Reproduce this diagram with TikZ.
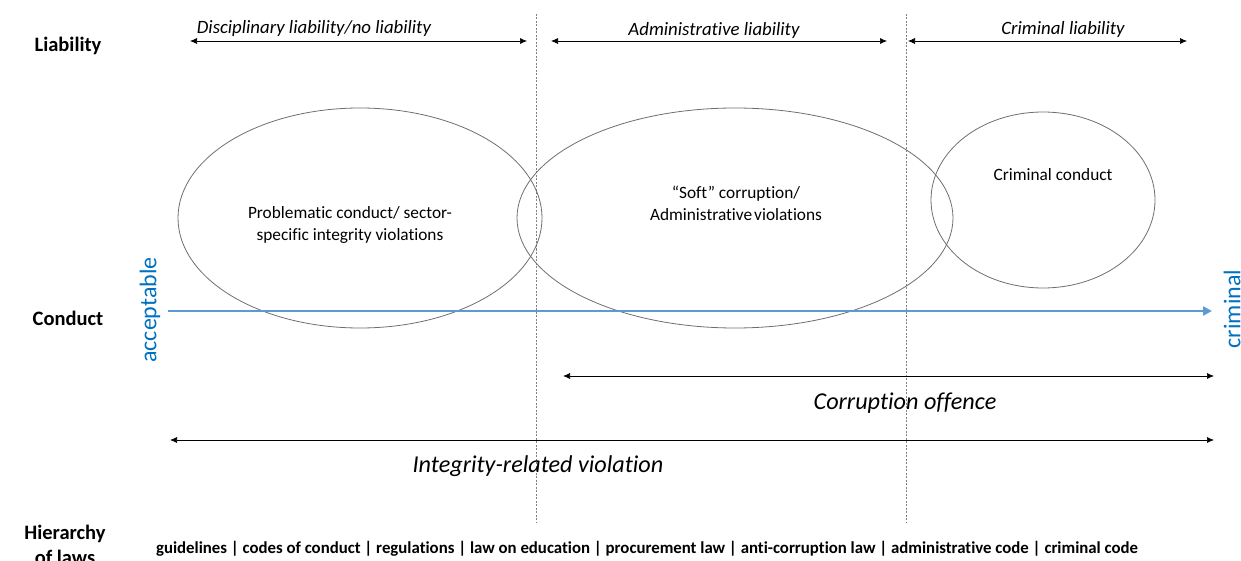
\documentclass[tikz,border=0pt]{standalone}
\usepackage{fontspec}
\setmainfont{Carlito}[Ligatures=NoCommon]
\usetikzlibrary{arrows.meta}
\definecolor{axisblue}{RGB}{91,155,213}
\definecolor{labblue}{RGB}{0,112,192}
\definecolor{elgray}{RGB}{110,110,110}
\begin{document}
\begin{tikzpicture}[x=1pt,y=-1pt,
  rowlab/.style={font=\fontsize{20.5}{25}\selectfont\bfseries, align=center},
  liab/.style={font=\fontsize{18.8}{20}\selectfont\itshape},
  dbl/.style={{Latex[length=7pt,width=6pt]}-{Latex[length=7pt,width=6pt]}, line width=0.7pt},
  sep/.style={gray, line width=0.6pt, dash pattern=on 2pt off 1.5pt},
  blob/.style={draw=elgray, line width=0.8pt},
  inner/.style={font=\fontsize{17.3}{22}\selectfont, align=center},
  big/.style={font=\fontsize{24.2}{27}\selectfont\itshape},
  side/.style={font=\fontsize{24}{26}\selectfont, text=labblue, rotate=90}
]
\useasboundingbox (0,0) rectangle (1241,561);
% row labels
\node[rowlab] (lliab) at (68,46) {Liability};
\node[rowlab] (lcond) at (68,318) {Conduct};
\node[rowlab] (lhier) at (65,545) {Hierarchy\\of laws};
% separators
\coordinate (s1t) at (536,14); \coordinate (s1b) at (536,523);
\coordinate (s2t) at (906,14); \coordinate (s2b) at (906,523);
\draw[sep] (s1t) -- (s1b);
\draw[sep] (s2t) -- (s2b);
% liability arrows
\coordinate (a1) at (190,41); \coordinate (a2) at (527,41);
\coordinate (b1) at (551,41); \coordinate (b2) at (887,41);
\coordinate (c1) at (908,41); \coordinate (c2) at (1187,41);
\draw[dbl] (a1) -- (a2);
\draw[dbl] (b1) -- (b2);
\draw[dbl] (c1) -- (c2);
\node[liab] (la) at (314,28) {Disciplinary liability/no liability};
\node[liab] (lb) at (714,30) {Administrative liability};
\node[liab] (lc) at (1063,29) {Criminal liability};
% ellipses
\draw[blob] (360,218) ellipse [x radius=182, y radius=110];
\draw[blob] (735,218) ellipse [x radius=218, y radius=110];
\draw[blob] (1043,200) ellipse [x radius=112, y radius=88];
\node[inner] (e1) at (350,225) {Problematic conduct/ sector-\\specific integrity violations};
\node[inner] (e2) at (736,203) {“Soft” corruption/\\Administrative\hspace{0.12em}violations};
\node[inner] (e3) at (1053,175) {Criminal conduct};
% conduct axis
\coordinate (x0) at (168,311); \coordinate (x1) at (1212,311);
\draw[axisblue, line width=2.6pt, -{Triangle[length=9pt,width=9pt]}] (x0) -- (x1);
\node[side] (acc) at (150,310) {acceptable};
\node[side] (crim) at (1232,309) {criminal};
% corruption offence
\coordinate (d1) at (563,376); \coordinate (d2) at (1214,376);
\draw[dbl] (d1) -- (d2);
\node[big] (dl) at (905,403) {Corruption offence};
% integrity
\coordinate (f1) at (170,440); \coordinate (f2) at (1214,440);
\draw[dbl] (f1) -- (f2);
\node[big] (fl) at (538,466) {Integrity-related violation};
% hierarchy
\node[font=\fontsize{16.8}{18}\selectfont\bfseries] (hl) at (647,549) {guidelines | codes of conduct | regulations | law on education | procurement law | anti-corruption law | administrative code | criminal code};
\end{tikzpicture}
\end{document}
